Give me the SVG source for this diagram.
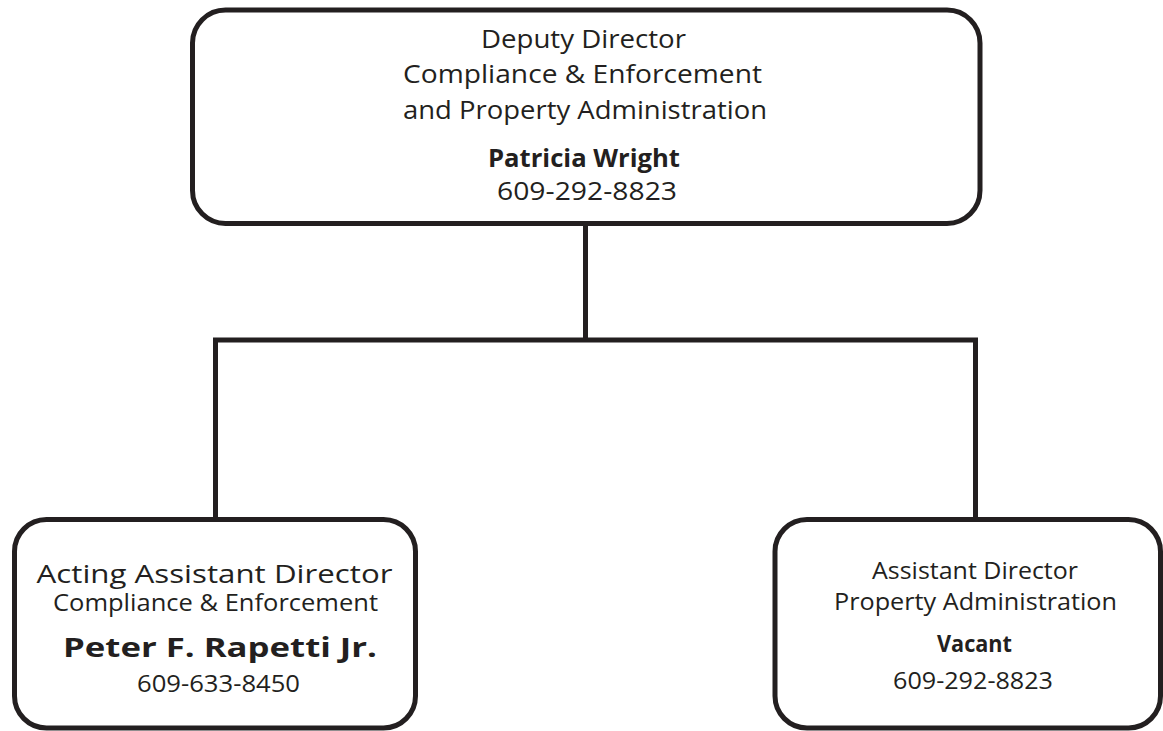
<svg xmlns="http://www.w3.org/2000/svg" width="1163" height="731" viewBox="0 0 1163 731">
  <style>
    .box { fill: #ffffff; stroke: #231f20; stroke-width: 5; }
    .conn { fill: none; stroke: #231f20; stroke-width: 5; stroke-linejoin: miter; }
    .t { font-family: "Open Sans", "Noto Sans", "Liberation Sans", sans-serif; fill: #231f20; text-anchor: middle; }
    .b { font-weight: bold; }
  </style>
  <rect width="1163" height="731" fill="#ffffff"/>
  <g id="connectors">
    <path class="conn" d="M585.5 224 V340"/>
    <path class="conn" d="M215.5 519.5 V340 H975.5 V519.5"/>
  </g>
  <g id="deputy-director">
    <rect class="box" x="192.5" y="10" width="787.5" height="213.5" rx="33" ry="33"/>
    <text class="t" x="583.5" y="47.5" font-size="26" textLength="205" lengthAdjust="spacingAndGlyphs">Deputy Director</text>
    <text class="t" x="582.5" y="83" font-size="26" textLength="359" lengthAdjust="spacingAndGlyphs">Compliance &amp; Enforcement</text>
    <text class="t" x="585" y="119" font-size="26" textLength="364" lengthAdjust="spacingAndGlyphs">and Property Administration</text>
    <text class="t b" x="584" y="166.5" font-size="25" textLength="192" lengthAdjust="spacingAndGlyphs">Patricia Wright</text>
    <text class="t" x="587" y="200" font-size="26" textLength="180" lengthAdjust="spacingAndGlyphs">609-292-8823</text>
  </g>
  <g id="acting-assistant-director">
    <rect class="box" x="14.5" y="519.5" width="401" height="208.5" rx="32" ry="32"/>
    <text class="t" x="214.5" y="583" font-size="26" textLength="356" lengthAdjust="spacingAndGlyphs">Acting Assistant Director</text>
    <text class="t" x="215.5" y="611" font-size="23" textLength="325" lengthAdjust="spacingAndGlyphs">Compliance &amp; Enforcement</text>
    <text class="t b" x="220" y="657" font-size="26" textLength="314" lengthAdjust="spacingAndGlyphs">Peter F. Rapetti Jr.</text>
    <text class="t" x="218.5" y="692" font-size="23" textLength="163" lengthAdjust="spacingAndGlyphs">609-633-8450</text>
  </g>
  <g id="assistant-director">
    <rect class="box" x="775" y="519.5" width="385.5" height="208.5" rx="32" ry="32"/>
    <text class="t" x="975" y="579" font-size="23" textLength="206" lengthAdjust="spacingAndGlyphs">Assistant Director</text>
    <text class="t" x="975.5" y="610" font-size="23" textLength="283" lengthAdjust="spacingAndGlyphs">Property Administration</text>
    <text class="t b" x="974.5" y="652" font-size="23" textLength="75" lengthAdjust="spacingAndGlyphs">Vacant</text>
    <text class="t" x="973" y="689" font-size="23" textLength="160" lengthAdjust="spacingAndGlyphs">609-292-8823</text>
  </g>
</svg>
